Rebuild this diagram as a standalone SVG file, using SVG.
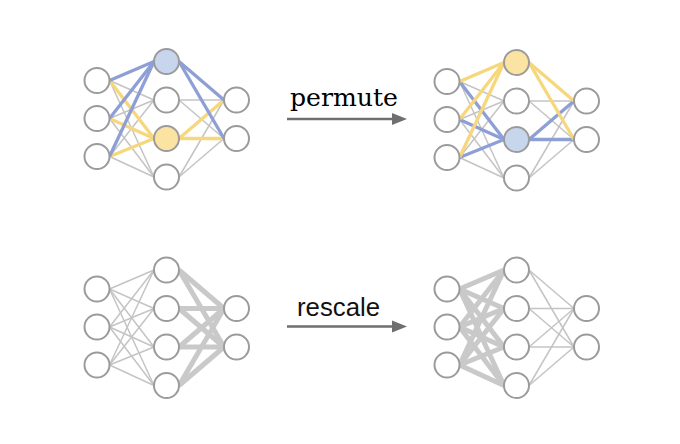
<svg xmlns="http://www.w3.org/2000/svg" width="680" height="444" viewBox="0 0 680 444">
<style>
.n{fill:#fff;stroke:#9b9b9b;stroke-width:2}
.nb{fill:#c7d6ec;stroke:#9b9b9b;stroke-width:2}
.ny{fill:#fbe3a1;stroke:#9b9b9b;stroke-width:2}
.g{stroke:#c4c4c4;stroke-width:1.5;fill:none}
.t{stroke:#c9c9c9;stroke-width:5;fill:none}
.b{stroke:#8e9fd6;stroke-width:3.3;fill:none}
.y{stroke:#f6d77c;stroke-width:3.3;fill:none}
.a{stroke:#6f6f6f;stroke-width:2.3}
.ah{fill:#6f6f6f}
</style>
<rect width="680" height="444" fill="#fff"/>
<g id="connectors">
 <g id="edges-top-left">
  <g class="g">
   <line x1="109.5" y1="80.5" x2="154" y2="100"/><line x1="109.5" y1="118.5" x2="154" y2="100"/><line x1="109.5" y1="156.5" x2="154" y2="100"/>
   <line x1="109.5" y1="80.5" x2="154" y2="177"/><line x1="109.5" y1="118.5" x2="154" y2="177"/><line x1="109.5" y1="156.5" x2="154" y2="177"/>
   <line x1="179" y1="100" x2="224" y2="100"/><line x1="179" y1="100" x2="224" y2="138.5"/>
   <line x1="179" y1="177" x2="224" y2="100"/><line x1="179" y1="177" x2="224" y2="138.5"/>
  </g>
  <g class="y">
   <line x1="109.5" y1="80.5" x2="154" y2="138.5"/><line x1="109.5" y1="118.5" x2="154" y2="138.5"/><line x1="109.5" y1="156.5" x2="154" y2="138.5"/>
   <line x1="179" y1="138.5" x2="224" y2="100"/><line x1="179" y1="138.5" x2="224" y2="138.5"/>
  </g>
  <g class="b">
   <line x1="109.5" y1="80.5" x2="154" y2="61.5"/><line x1="109.5" y1="118.5" x2="154" y2="61.5"/><line x1="109.5" y1="156.5" x2="154" y2="61.5"/>
   <line x1="179" y1="61.5" x2="224" y2="100"/><line x1="179" y1="61.5" x2="224" y2="138.5"/>
  </g>
 </g>
 <g id="edges-top-right" transform="translate(350,1)">
  <g class="g">
   <line x1="109.5" y1="80.5" x2="154" y2="100"/><line x1="109.5" y1="118.5" x2="154" y2="100"/><line x1="109.5" y1="156.5" x2="154" y2="100"/>
   <line x1="109.5" y1="80.5" x2="154" y2="177"/><line x1="109.5" y1="118.5" x2="154" y2="177"/><line x1="109.5" y1="156.5" x2="154" y2="177"/>
   <line x1="179" y1="100" x2="224" y2="100"/><line x1="179" y1="100" x2="224" y2="138.5"/>
   <line x1="179" y1="177" x2="224" y2="100"/><line x1="179" y1="177" x2="224" y2="138.5"/>
  </g>
  <g class="b">
   <line x1="109.5" y1="80.5" x2="154" y2="138.5"/><line x1="109.5" y1="118.5" x2="154" y2="138.5"/><line x1="109.5" y1="156.5" x2="154" y2="138.5"/>
   <line x1="179" y1="138.5" x2="224" y2="100"/><line x1="179" y1="138.5" x2="224" y2="138.5"/>
  </g>
  <g class="y">
   <line x1="109.5" y1="80.5" x2="154" y2="61.5"/><line x1="109.5" y1="118.5" x2="154" y2="61.5"/><line x1="109.5" y1="156.5" x2="154" y2="61.5"/>
   <line x1="179" y1="61.5" x2="224" y2="100"/><line x1="179" y1="61.5" x2="224" y2="138.5"/>
  </g>
 </g>
 <g id="edges-bottom-left" transform="translate(0,208.5)">
  <g class="g">
   <line x1="109.5" y1="80.5" x2="154" y2="61.5"/><line x1="109.5" y1="80.5" x2="154" y2="100"/><line x1="109.5" y1="80.5" x2="154" y2="138.5"/><line x1="109.5" y1="80.5" x2="154" y2="177"/>
   <line x1="109.5" y1="118.5" x2="154" y2="61.5"/><line x1="109.5" y1="118.5" x2="154" y2="100"/><line x1="109.5" y1="118.5" x2="154" y2="138.5"/><line x1="109.5" y1="118.5" x2="154" y2="177"/>
   <line x1="109.5" y1="156.5" x2="154" y2="61.5"/><line x1="109.5" y1="156.5" x2="154" y2="100"/><line x1="109.5" y1="156.5" x2="154" y2="138.5"/><line x1="109.5" y1="156.5" x2="154" y2="177"/>
  </g>
  <g class="t">
   <line x1="179" y1="61.5" x2="224" y2="100"/><line x1="179" y1="61.5" x2="224" y2="138.5"/>
   <line x1="179" y1="100" x2="224" y2="100"/><line x1="179" y1="100" x2="224" y2="138.5"/>
   <line x1="179" y1="138.5" x2="224" y2="100"/><line x1="179" y1="138.5" x2="224" y2="138.5"/>
   <line x1="179" y1="177" x2="224" y2="100"/><line x1="179" y1="177" x2="224" y2="138.5"/>
  </g>
 </g>
 <g id="edges-bottom-right" transform="translate(350,208.5)">
  <g class="t">
   <line x1="109.5" y1="80.5" x2="154" y2="61.5"/><line x1="109.5" y1="80.5" x2="154" y2="100"/><line x1="109.5" y1="80.5" x2="154" y2="138.5"/><line x1="109.5" y1="80.5" x2="154" y2="177"/>
   <line x1="109.5" y1="118.5" x2="154" y2="61.5"/><line x1="109.5" y1="118.5" x2="154" y2="100"/><line x1="109.5" y1="118.5" x2="154" y2="138.5"/><line x1="109.5" y1="118.5" x2="154" y2="177"/>
   <line x1="109.5" y1="156.5" x2="154" y2="61.5"/><line x1="109.5" y1="156.5" x2="154" y2="100"/><line x1="109.5" y1="156.5" x2="154" y2="138.5"/><line x1="109.5" y1="156.5" x2="154" y2="177"/>
  </g>
  <g class="g">
   <line x1="179" y1="61.5" x2="224" y2="100"/><line x1="179" y1="61.5" x2="224" y2="138.5"/>
   <line x1="179" y1="100" x2="224" y2="100"/><line x1="179" y1="100" x2="224" y2="138.5"/>
   <line x1="179" y1="138.5" x2="224" y2="100"/><line x1="179" y1="138.5" x2="224" y2="138.5"/>
   <line x1="179" y1="177" x2="224" y2="100"/><line x1="179" y1="177" x2="224" y2="138.5"/>
  </g>
 </g>
 <g id="arrow-permute">
  <line class="a" x1="287" y1="119" x2="394" y2="119"/>
  <polygon class="ah" points="392,113 407,119 392,125"/>
 </g>
 <g id="arrow-rescale">
  <line class="a" x1="287" y1="326.5" x2="394" y2="326.5"/>
  <polygon class="ah" points="392,320.5 407,326.5 392,332.5"/>
 </g>
</g>
<g id="net-top-left">
 <g id="tl-i1"><circle class="n" cx="97" cy="80.5" r="12.5"/></g>
 <g id="tl-i2"><circle class="n" cx="97" cy="118.5" r="12.5"/></g>
 <g id="tl-i3"><circle class="n" cx="97" cy="156.5" r="12.5"/></g>
 <g id="tl-h1"><circle class="nb" cx="166.5" cy="61.5" r="12.5"/></g>
 <g id="tl-h2"><circle class="n" cx="166.5" cy="100" r="12.5"/></g>
 <g id="tl-h3"><circle class="ny" cx="166.5" cy="138.5" r="12.5"/></g>
 <g id="tl-h4"><circle class="n" cx="166.5" cy="177" r="12.5"/></g>
 <g id="tl-o1"><circle class="n" cx="236.5" cy="100" r="12.5"/></g>
 <g id="tl-o2"><circle class="n" cx="236.5" cy="138.5" r="12.5"/></g>
</g>
<g id="net-top-right">
 <g id="tr-i1"><circle class="n" cx="447" cy="81.5" r="12.5"/></g>
 <g id="tr-i2"><circle class="n" cx="447" cy="119.5" r="12.5"/></g>
 <g id="tr-i3"><circle class="n" cx="447" cy="157.5" r="12.5"/></g>
 <g id="tr-h1"><circle class="ny" cx="516.5" cy="62.5" r="12.5"/></g>
 <g id="tr-h2"><circle class="n" cx="516.5" cy="101" r="12.5"/></g>
 <g id="tr-h3"><circle class="nb" cx="516.5" cy="139.5" r="12.5"/></g>
 <g id="tr-h4"><circle class="n" cx="516.5" cy="178" r="12.5"/></g>
 <g id="tr-o1"><circle class="n" cx="586.5" cy="101" r="12.5"/></g>
 <g id="tr-o2"><circle class="n" cx="586.5" cy="139.5" r="12.5"/></g>
</g>
<g id="net-bottom-left">
 <g id="bl-i1"><circle class="n" cx="97" cy="289" r="12.5"/></g>
 <g id="bl-i2"><circle class="n" cx="97" cy="327" r="12.5"/></g>
 <g id="bl-i3"><circle class="n" cx="97" cy="365" r="12.5"/></g>
 <g id="bl-h1"><circle class="n" cx="166.5" cy="270" r="12.5"/></g>
 <g id="bl-h2"><circle class="n" cx="166.5" cy="308.5" r="12.5"/></g>
 <g id="bl-h3"><circle class="n" cx="166.5" cy="347" r="12.5"/></g>
 <g id="bl-h4"><circle class="n" cx="166.5" cy="385.5" r="12.5"/></g>
 <g id="bl-o1"><circle class="n" cx="236.5" cy="308.5" r="12.5"/></g>
 <g id="bl-o2"><circle class="n" cx="236.5" cy="347" r="12.5"/></g>
</g>
<g id="net-bottom-right">
 <g id="br-i1"><circle class="n" cx="447" cy="289" r="12.5"/></g>
 <g id="br-i2"><circle class="n" cx="447" cy="327" r="12.5"/></g>
 <g id="br-i3"><circle class="n" cx="447" cy="365" r="12.5"/></g>
 <g id="br-h1"><circle class="n" cx="516.5" cy="270" r="12.5"/></g>
 <g id="br-h2"><circle class="n" cx="516.5" cy="308.5" r="12.5"/></g>
 <g id="br-h3"><circle class="n" cx="516.5" cy="347" r="12.5"/></g>
 <g id="br-h4"><circle class="n" cx="516.5" cy="385.5" r="12.5"/></g>
 <g id="br-o1"><circle class="n" cx="586.5" cy="308.5" r="12.5"/></g>
 <g id="br-o2"><circle class="n" cx="586.5" cy="347" r="12.5"/></g>
</g>
<g id="labels">
 <text x="290" y="105.5" font-family="'DejaVu Serif', serif" font-size="24.5" fill="#000" textLength="108" lengthAdjust="spacingAndGlyphs">permute</text>
 <text x="297" y="316" font-family="'Liberation Sans', Arial, sans-serif" font-size="25" fill="#111" textLength="83" lengthAdjust="spacingAndGlyphs">rescale</text>
</g>
</svg>
